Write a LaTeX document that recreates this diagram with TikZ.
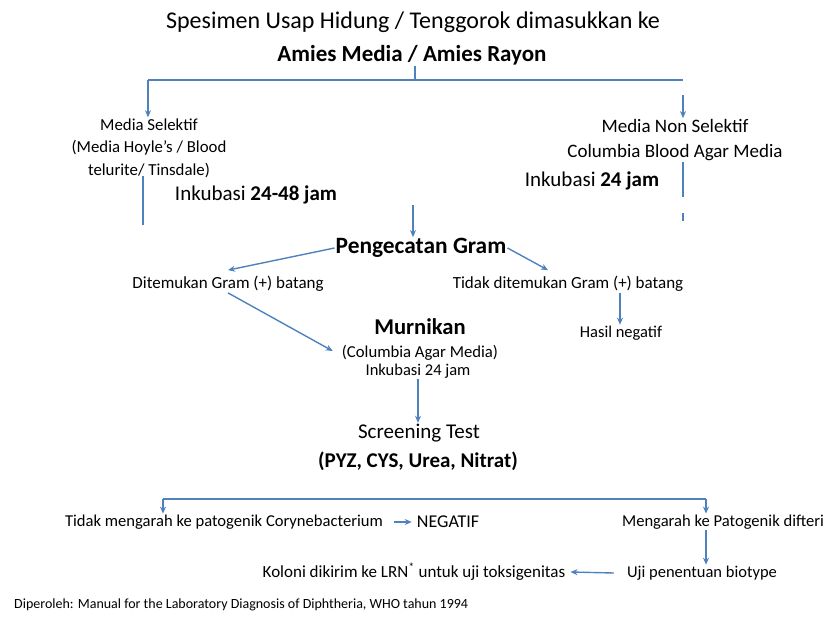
\documentclass[tikz,border=0pt]{standalone}
\usepackage{fontspec}
\setmainfont{Carlito}
\usetikzlibrary{arrows.meta}
\definecolor{ablue}{RGB}{79,129,189}
\begin{document}
\begin{tikzpicture}[x=1pt,y=-1pt,
  ln/.style={draw=ablue,line width=1.4pt},
  arr/.style={ln,-{Stealth[length=7pt,width=6pt]}},
  lbl/.style={inner sep=1pt,align=center},
  fs/.style={font=\fontsize{#1}{#1}\selectfont},
  fb/.style={font=\fontsize{#1}{#1}\selectfont\bfseries},
]
\useasboundingbox (0,0) rectangle (826,617);
% titles
\node[lbl,fs=24] (t1) at (413,22) {Spesimen Usap Hidung / Tenggorok dimasukkan ke};
\node[lbl,fb=23] (t2) at (412,55) {Amies Media / Amies Rayon};
\coordinate (s1) at (415,80);
\coordinate (L1) at (148,80);
\coordinate (R1) at (683,80);
\coordinate (R1a) at (683,95);
\draw[ln] (t2.south -| s1) -- (s1);
\draw[ln] (L1) -- (R1);
% left branch
\node[lbl,font=\fontsize{16.8}{22.5}\selectfont] (sel) at (149,148) {Media Selektif\\(Media Hoyle's / Blood\\telurite/ Tinsdale)};
\draw[arr] (L1) -- (L1 |- sel.north);
\node[lbl,fs=21] (ink1) at (256,195) {Inkubasi \textbf{24-48 jam}};
\coordinate (lv1) at (143,176);
\coordinate (lv2) at (143,225);
\draw[ln] (lv1) -- (lv2);
% right branch
\node[lbl,fs=19] (nonsel) at (675,126) {Media Non Selektif};
\node[lbl,fs=19] (col) at (675,153) {Columbia Blood Agar Media};
\draw[arr] (R1a) -- (R1a |- nonsel.north);
\node[lbl,fs=21] (ink2) at (592,181) {Inkubasi \textbf{24 jam}};
\coordinate (rv1) at (683,162);
\coordinate (rv2) at (683,197);
\coordinate (rv3) at (683,213);
\coordinate (rv4) at (683,221);
\draw[ln] (rv1) -- (rv2);
\draw[ln] (rv3) -- (rv4);
% gram
\node[lbl,fb=23.4] (gram) at (421,248) {Pengecatan Gram};
\coordinate (g0) at (413,205);
\draw[arr] (g0) -- (g0 |- gram.north);
\node[lbl,fs=17] (dit) at (228,284) {Ditemukan Gram (+) batang};
\node[lbl,fs=17] (tdk) at (568,284) {Tidak ditemukan Gram (+) batang};
\draw[arr] (gram.west) -- ([yshift=5pt]dit.north);
\draw[arr] (gram.east) -- ([xshift=-20pt,yshift=5pt]tdk.north);
\node[lbl,fs=16.5] (neg) at (621,333) {Hasil negatif};
\draw[arr] (tdk.south -| 620,0) -- (620,0 |- neg.north);
% murnikan
\node[lbl,fb=22.6] (mur) at (420,327) {Murnikan};
\node[lbl,fs=16.7] (cam) at (420,353) {(Columbia Agar Media)};
\node[lbl,fs=16.5] (ink3) at (418,371) {Inkubasi 24 jam};
\draw[arr] (dit.south) -- ([xshift=-8pt,yshift=2pt]cam.west);
% screening
\node[lbl,fs=21] (scr) at (419,433) {Screening Test};
\node[lbl,fb=21] (pyz) at (418,461) {(PYZ, CYS, Urea, Nitrat)};
\draw[arr] (ink3.south -| 418,0) -- (418,0 |- scr.north);
% bottom
\coordinate (bl) at (163,499);
\coordinate (br) at (706,499);
\draw[ln] (bl) -- (br);
\node[lbl,fs=16.6] (tm) at (224,522) {Tidak mengarah ke patogenik Corynebacterium};
\node[lbl,fs=18] (negat) at (448,522) {NEGATIF};
\draw[arr] ([xshift=10pt]tm.east) -- ([xshift=-4pt]negat.west);
\draw[arr] (bl) -- (bl |- tm.north);
\node[lbl,fs=16.6] (mp) at (723,522) {Mengarah ke Patogenik difteri};
\draw[arr] (br) -- (br |- mp.north);
\node[lbl,fs=16.5] (uji) at (702,573) {Uji penentuan biotype};
\draw[arr] (mp.south -| br) -- (br |- uji.north);
\node[lbl,fs=17] (kol) at (414,572) {Koloni dikirim ke LRN\textsuperscript{*} untuk uji toksigenitas};
\draw[arr] ([xshift=-12pt]uji.west) -- ([xshift=4pt]kol.east);
\node[lbl,fs=14,anchor=west] (foot) at (13,605) {Diperoleh: Manual for the Laboratory Diagnosis of Diphtheria, WHO tahun 1994};
\end{tikzpicture}
\end{document}
